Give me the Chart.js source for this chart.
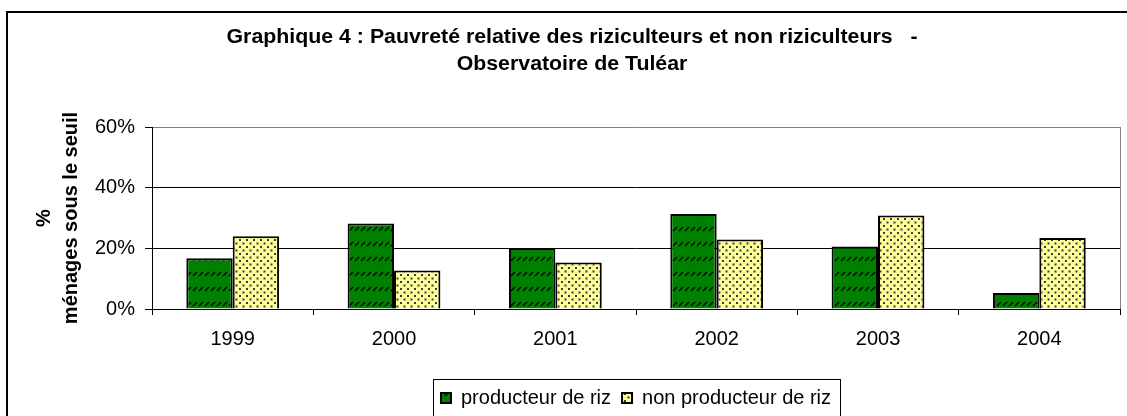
<!DOCTYPE html>
<html>
<head>
<meta charset="utf-8">
<script src="https://cdn.jsdelivr.net/npm/chart.js@4.4.1/dist/chart.umd.min.js"></script>
<style>
  body { margin: 0; background: #fff; }
  canvas { display: block; }
</style>
</head>
<body>
<canvas id="myChart" width="1127" height="416"></canvas>
<script>
// Data
var years = ["1999", "2000", "2001", "2002", "2003", "2004"];
var producteur = [16.7, 28.2, 20.1, 31.3, 20.6, 5.3];
var nonProducteur = [24.0, 12.7, 15.3, 22.9, 30.8, 23.4];
var seriesNames = ["producteur de riz", "non producteur de riz"];
var yTicks = [0, 20, 40, 60];
var titleLines = [
  "Graphique 4 : Pauvreté relative des riziculteurs et non riziculteurs   -",
  "Observatoire de Tuléar"
];
var yTitle = ["%", "ménages sous le seuil"];

var FONT = "'Liberation Sans', Arial, Helvetica, sans-serif";
Chart.defaults.font.family = FONT;
Chart.defaults.color = "#000";

// hatch fill for the green bars
function makeHatch() {
  var c = document.createElement("canvas");
  c.width = 6; c.height = 15;
  var g = c.getContext("2d");
  g.fillStyle = "#008000";
  g.fillRect(0, 0, 6, 15);
  g.strokeStyle = "#000";
  g.lineWidth = 1.3;
  g.beginPath();
  g.moveTo(1, 6);
  g.lineTo(5, 2);
  g.stroke();
  return g.createPattern(c, "repeat");
}

// dotted fill for the yellow bars
function makeDots() {
  var c = document.createElement("canvas");
  c.width = 7; c.height = 7;
  var g = c.getContext("2d");
  g.fillStyle = "#ffff99";
  g.fillRect(0, 0, 7, 7);
  g.fillStyle = "#3a3a3a";
  g.fillRect(1, 1, 2, 2);
  g.fillRect(4.5, 4.5, 2, 2);
  return g.createPattern(c, "repeat");
}

// outer frame, title, plot border and legend frame
var decorations = {
  id: "decorations",
  afterDraw: function (chart) {
    var ctx = chart.ctx;
    var area = chart.chartArea;
    ctx.save();

    ctx.strokeStyle = "#000";
    ctx.lineWidth = 2;
    ctx.strokeRect(7, 12, 1200, 500);

    ctx.strokeStyle = "#808080";
    ctx.lineWidth = 1;
    ctx.beginPath();
    ctx.moveTo(Math.round(area.right) + 0.5, area.top);
    ctx.lineTo(Math.round(area.right) + 0.5, area.bottom);
    ctx.stroke();

    ctx.fillStyle = "#000";
    ctx.font = "bold 20px " + FONT;
    ctx.textAlign = "center";
    ctx.textBaseline = "alphabetic";
    var w = ctx.measureText(titleLines[0]).width;
    var sx = 691 / w;
    ctx.translate(572, 0);
    ctx.scale(sx, 1);
    ctx.fillText(titleLines[0], 0, 43);
    ctx.fillText(titleLines[1], 0, 70);
    ctx.setTransform(1, 0, 0, 1, 0, 0);

    var hb = chart.legend.legendHitBoxes;
    if (hb && hb.length) {
      var last = hb[hb.length - 1];
      var cy = hb[0].top + hb[0].height / 2;
      var left = hb[0].left - 8;
      var right = last.left + last.width + 9;
      ctx.strokeStyle = "#000";
      ctx.lineWidth = 1;
      ctx.strokeRect(Math.round(left) + 0.5, Math.round(cy - 19) + 0.5,
        Math.round(right - left), 37);
    }
    ctx.restore();
  }
};

var chart = new Chart(document.getElementById("myChart"), {
  type: "bar",
  data: {
    labels: years,
    datasets: [
      {
        label: seriesNames[0],
        data: producteur,
        backgroundColor: makeHatch(),
        borderColor: "#000",
        borderWidth: 2
      },
      {
        label: seriesNames[1],
        data: nonProducteur,
        backgroundColor: makeDots(),
        borderColor: "#000",
        borderWidth: 2
      }
    ]
  },
  options: {
    responsive: false,
    animation: false,
    devicePixelRatio: 1,
    layout: { padding: { top: 127, left: 31, right: 7, bottom: -2 } },
    datasets: { bar: { barPercentage: 1, categoryPercentage: 0.575 } },
    plugins: {
      title: { display: false },
      tooltip: { enabled: false },
      legend: {
        position: "bottom",
        fullSize: false,
        labels: {
          boxWidth: 10,
          boxHeight: 10,
          padding: 11,
          font: { size: 20 },
          color: "#000"
        }
      }
    },
    scales: {
      x: {
        grid: {
          offset: true,
          drawOnChartArea: false,
          tickLength: 6,
          color: "#000"
        },
        border: { color: "#000" },
        ticks: { font: { size: 20 }, padding: 12 },
        afterFit: function (scale) { scale.height += 14; }
      },
      y: {
        min: 0,
        max: 60,
        afterBuildTicks: function (scale) {
          scale.ticks = yTicks.map(function (v) { return { value: v }; });
        },
        grid: {
          tickLength: 7,
          color: function (c) { return c.tick && c.tick.value === 60 ? "#808080" : "#000"; },
          tickColor: "#000"
        },
        border: { color: "#000" },
        ticks: {
          font: { size: 20 },
          padding: 10,
          callback: function (v) { return v + "%"; }
        },
        title: {
          display: true,
          text: yTitle,
          font: { size: 20, weight: "bold", lineHeight: 1.35 },
          padding: { top: 0, bottom: 0 }
        }
      }
    }
  },
  plugins: [decorations]
});
</script>
</body>
</html>
